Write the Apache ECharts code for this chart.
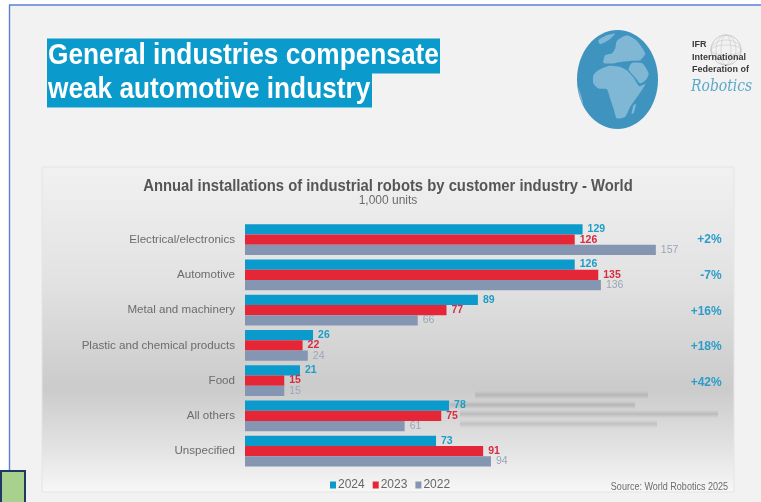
<!DOCTYPE html>
<html>
<head>
<meta charset="utf-8">
<style>html,body{margin:0;padding:0;background:#fff}#chart{width:761px;height:502px}</style>
<script src="https://cdn.jsdelivr.net/npm/echarts@6/dist/echarts.min.js"></script>
</head>
<body>
<div id="chart"></div>
<script>
// Installations by customer industry, thousand units
const categories = ['Electrical/electronics', 'Automotive', 'Metal and machinery', 'Plastic and chemical products', 'Food', 'All others', 'Unspecified'];
const years = ['2024', '2023', '2022'];
const values2024 = [129, 126, 89, 26, 21, 78, 73];
const values2023 = [126, 135, 77, 22, 15, 75, 91];
const values2022 = [157, 136, 66, 24, 15, 61, 94];
const changes = ['+2%', '-7%', '+16%', '+18%', '+42%', '', ''];

const barColors = ['#0a9acb', '#e52636', '#8496b1'];
const labelColors = ['#1c9dc8', '#d92a40', '#9ba5b8'];
const FONT = '"Liberation Sans", Arial, sans-serif';

const chart = echarts.init(document.getElementById('chart'));

function barSeries(i, data) {
  return {
    name: years[i],
    type: 'bar',
    data: data,
    barWidth: 10.3,
    barGap: '0%',
    itemStyle: { color: barColors[i] },
    label: {
      show: true,
      position: 'right',
      distance: 5,
      color: labelColors[i],
      fontFamily: FONT,
      fontSize: 10.5,
      fontWeight: i === 2 ? 'normal' : 'bold'
    }
  };
}

// Horizontally condensed text helper for the slide furniture
function text(str, x, y, size, fill, weight, scaleX, align) {
  return {
    type: 'text', x: x, y: y, scaleX: scaleX || 1, z: 1,
    style: {
      text: str, fill: fill, font: (weight || 'normal') + ' ' + size + 'px ' + FONT,
      align: align || 'left', verticalAlign: 'middle'
    }
  };
}
function rect(x, y, w, h, style, z) {
  return { type: 'rect', z: z || 0, shape: { x: x, y: y, width: w, height: h }, style: style };
}
// Out-of-focus streaks behind the lower bars
function streak(x, y, w, o) {
  return rect(x, y - 4, w, 8, {
    fill: new echarts.graphic.LinearGradient(0, 0, 0, 1, [
      { offset: 0, color: 'rgba(120,120,120,0)' },
      { offset: 0.5, color: 'rgba(120,120,120,' + o + ')' },
      { offset: 1, color: 'rgba(120,120,120,0)' }
    ])
  }, 0);
}
// Land masses on the globe
const GLOBE = { cx: 617.5, cy: 79.5, rx: 40.5, ry: 49.5 };
function land(points) {
  return {
    type: 'polygon', z: 1,
    shape: {
      smooth: 0.2,
      points: points.map(p => [
        GLOBE.cx + (p[0] - 157) / 121 * GLOBE.rx,
        GLOBE.cy + (p[1] - 178) / 149 * GLOBE.ry
      ])
    },
    style: { fill: '#7fb7d5' }
  };
}
// Wire sphere beside the logotype
const wire = [];
[15, 10, 5].forEach(r => wire.push({ type: 'ellipse', z: 1, shape: { cx: 726, cy: 50, rx: r, ry: 15 }, style: { fill: 'none', stroke: '#c8c8c8', lineWidth: 0.6 } }));
[15, 10, 5].forEach(r => wire.push({ type: 'ellipse', z: 1, shape: { cx: 726, cy: 50, rx: 15, ry: r }, style: { fill: 'none', stroke: '#c8c8c8', lineWidth: 0.6 } }));

chart.setOption({
  animation: false,
  backgroundColor: '#ffffff',
  grid: [
    { left: 245, top: 222, width: 418.7, height: 246.7 },
    { left: 245, top: 222, width: 418.7, height: 250 }
  ],
  xAxis: [
    { type: 'value', min: 0, max: 160, show: false, gridIndex: 0 },
    { type: 'value', min: 0, max: 160, show: false, gridIndex: 1 }
  ],
  yAxis: [
    {
      type: 'category', data: categories, inverse: true, gridIndex: 0,
      axisLine: { show: false }, axisTick: { show: false },
      axisLabel: { margin: 10, color: '#6c6c6c', fontFamily: FONT, fontSize: 11.6 }
    },
    {
      type: 'category', data: changes, inverse: true, position: 'right', gridIndex: 1,
      axisLine: { show: false }, axisTick: { show: false },
      axisLabel: { margin: 58, align: 'right', color: '#2b9dc9', fontFamily: FONT, fontSize: 12, fontWeight: 'bold' }
    }
  ],
  legend: {
    left: 325, top: 474, itemWidth: 6, itemHeight: 7, itemGap: 8,
    icon: 'rect', data: years,
    textStyle: { color: '#666', fontFamily: FONT, fontSize: 12, padding: [0, 0, 0, -3] }
  },
  series: [barSeries(0, values2024), barSeries(1, values2023), barSeries(2, values2022)],
  graphic: [
    // Slide background and frame
    rect(9, 5, 752, 465, { fill: '#f2f2f2' }, -5),
    rect(9, 470, 752, 32, { fill: '#f2f2f2' }, -5),
    { type: 'line', z: 1, shape: { x1: 9, y1: 5, x2: 761, y2: 5 }, style: { stroke: '#5b80d6', lineWidth: 1.4 } },
    { type: 'line', z: 1, shape: { x1: 9.5, y1: 5, x2: 9.5, y2: 470 }, style: { stroke: '#5b80d6', lineWidth: 1.4 } },
    rect(1, 471, 24, 32, { fill: '#a9d18e', stroke: '#1f3864', lineWidth: 2 }, 3),

    // Slide heading on its highlight
    rect(47, 38.5, 393, 35, { fill: '#0a9acb' }, 0),
    rect(47, 73, 325, 34.5, { fill: '#0a9acb' }, 0),
    text('General industries compensate', 48, 56, 29, '#ffffff', 'bold', 0.905),
    text('weak automotive industry', 48, 90, 29, '#ffffff', 'bold', 0.905),

    // Globe
    { type: 'ellipse', z: 0, shape: { cx: GLOBE.cx, cy: GLOBE.cy, rx: GLOBE.rx, ry: GLOBE.ry }, style: { fill: '#3f93bf' } },
    land([[85, 165], [100, 150], [130, 137], [165, 140], [185, 150], [205, 172], [222, 198], [240, 192], [216, 230], [195, 260], [180, 290], [155, 295], [145, 265], [135, 235], [125, 207], [100, 205], [85, 190]]),
    land([[190, 148], [200, 128], [232, 130], [250, 160], [243, 178], [225, 190], [208, 170]]),
    land([[115, 128], [120, 105], [140, 100], [150, 85], [155, 62], [185, 45], [215, 62], [240, 100], [225, 120], [195, 122], [165, 125], [140, 130]]),
    land([[100, 60], [125, 45], [150, 40], [130, 60], [105, 72]]),
    land([[205, 255], [212, 252], [206, 278], [199, 282]]),
    land([[38, 200], [48, 225], [55, 255], [46, 235]]),

    // Federation logotype
    ...wire,
    text('IFR', 692, 45, 9, '#3a3a3a', 'bold'),
    text('International', 692, 58, 9, '#3a3a3a', 'bold'),
    text('Federation of', 692, 70, 9, '#3a3a3a', 'bold'),
    {
      type: 'text', x: 691, y: 87, z: 1, scaleX: 0.82,
      style: { text: 'Robotics', fill: '#5ba8c9', font: 'italic 17px "DejaVu Serif", serif', verticalAlign: 'middle' }
    },

    // Chart panel
    rect(42, 167, 692, 325, {
      fill: new echarts.graphic.LinearGradient(0, 0, 0, 1, [
        { offset: 0, color: '#f1f1f1' },
        { offset: 0.35, color: '#e2e2e2' },
        { offset: 0.68, color: '#cbcbcb' },
        { offset: 0.86, color: '#e2e2e2' },
        { offset: 1, color: '#f7f7f7' }
      ]),
      stroke: '#e4e4e4', lineWidth: 1
    }, -2),
    streak(475, 395, 173, 0.28),
    streak(450, 405, 185, 0.3),
    streak(460, 414, 258, 0.28),
    streak(460, 424, 197, 0.25),

    // Chart headings and source note
    text('Annual installations of industrial robots by customer industry - World', 388, 187, 16, '#555555', 'bold', 0.926, 'center'),
    text('1,000 units', 388, 201, 12, '#6c6c6c', 'normal', 1, 'center'),
    text('Source: World Robotics 2025', 728, 487, 11, '#6c6c6c', 'normal', 0.82, 'right')
  ]
});
</script>
</body>
</html>
